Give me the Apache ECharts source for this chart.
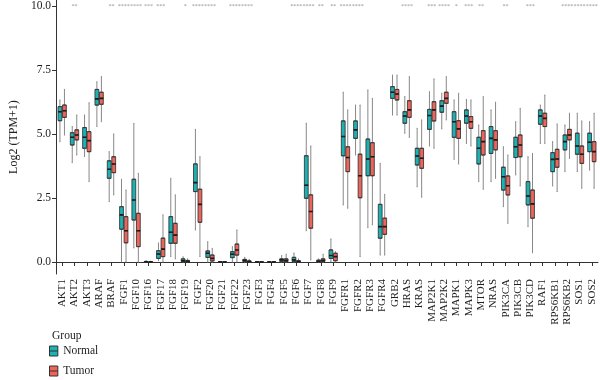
<!DOCTYPE html>
<html><head><meta charset="utf-8">
<script src="https://cdn.jsdelivr.net/npm/echarts@6/dist/echarts.min.js"></script>
<style>html,body{margin:0;padding:0;background:#fff}#c{width:600px;height:380px}</style>
</head><body><div id="c"></div>
<script>
var categories = ['AKT1','AKT2','AKT3','ARAF','BRAF','FGF1','FGF10','FGF16','FGF17','FGF18','FGF19','FGF2','FGF20','FGF21','FGF22','FGF23','FGF3','FGF4','FGF5','FGF6','FGF7','FGF8','FGF9','FGFR1','FGFR2','FGFR3','FGFR4','GRB2','HRAS','KRAS','MAP2K1','MAP2K2','MAPK1','MAPK3','MTOR','NRAS','PIK3CA','PIK3CB','PIK3CD','RAF1','RPS6KB1','RPS6KB2','SOS1','SOS2'];
// [lower whisker, Q1, median, Q3, upper whisker]
var normal = [
[4.70,5.52,5.87,6.07,6.33],[3.88,4.57,4.87,5.05,5.29],[4.12,4.44,4.87,5.25,5.74],[5.29,6.13,6.37,6.74,7.04],[2.36,3.27,3.62,3.95,4.31],
[0.01,1.28,1.84,2.16,3.23],[0.55,1.64,2.42,3.23,5.41],[0,0,0.01,0.02,0.05],[0.05,0.14,0.31,0.44,0.74],[0.21,0.73,1.16,1.77,3.27],
[0,0.02,0.05,0.12,0.2],[1.25,2.75,3.1,3.83,5.18],[0,0.18,0.34,0.43,0.79],[0,0,0,0,0.01],[0,0.17,0.3,0.4,0.6],
[0,0.02,0.06,0.1,0.18],[0,0,0,0,0.01],[0,0,0,0,0.01],[0,0.02,0.08,0.12,0.25],[0,0.02,0.08,0.18,0.35],
[1.22,2.49,3.0,4.15,5.42],[0,0.01,0.03,0.07,0.12],[0,0.14,0.25,0.47,0.9],[2.23,4.15,4.9,5.51,6.63],[4.18,4.83,5.16,5.51,6.13],
[1.34,3.37,4.02,4.8,6.72],[0.27,0.93,1.38,2.25,3.85],[5.74,6.39,6.63,6.85,7.3],[5.03,5.42,5.7,5.87,6.46],[2.94,3.79,4.14,4.44,5.22],
[4.53,5.18,5.72,5.96,6.65],[5.2,5.85,6.09,6.3,6.59],[4.01,4.87,5.48,5.87,6.33],[4.63,5.42,5.7,5.94,6.35],[3.14,3.83,4.44,4.87,5.35],
[3.14,4.24,4.83,5.29,5.94],[2.16,2.81,3.33,3.7,4.5],[3.4,4.08,4.5,4.87,5.48],[1.38,2.23,2.58,3.14,4.11],[4.63,5.38,5.7,5.94,6.13],
[2.97,3.53,4.01,4.27,4.7],[3.53,4.38,4.7,4.96,5.35],[3.53,4.21,4.53,5.03,5.81],[3.59,4.31,4.68,5.03,5.48]
];
var tumor = [
[4.96,5.65,5.91,6.13,6.74],[4.18,4.77,4.96,5.16,5.74],[3.14,4.31,4.74,5.09,6.22],[5.48,6.16,6.39,6.63,7.24],[2.62,3.49,3.83,4.11,5.0],
[0,0.75,1.22,1.77,2.81],[0,0.6,1.22,1.9,3.46],[0,0,0,0.01,0.03],[0,0.21,0.5,0.93,1.84],[0.12,0.73,1.05,1.51,2.62],
[0,0,0.02,0.06,0.12],[0.21,1.55,2.25,2.84,4.11],[0,0.04,0.14,0.27,0.53],[0,0,0,0,0.01],[0,0.27,0.47,0.7,1.25],
[0,0,0.02,0.04,0.1],[0,0,0,0,0.01],[0,0,0,0,0.01],[0,0.02,0.06,0.12,0.3],[0,0,0.02,0.05,0.12],
[0.08,1.32,1.97,2.62,4.53],[0,0.02,0.06,0.12,0.3],[0,0.05,0.21,0.34,0.4],[2.1,3.53,4.08,4.5,5.94],[0.21,2.51,3.37,4.21,6.13],
[1.45,3.37,4.11,4.66,6.39],[0.27,1.08,1.38,1.71,2.64],[5.74,6.33,6.56,6.74,7.3],[4.87,5.65,5.94,6.3,7.24],[2.53,3.66,4.05,4.44,5.55],
[4.44,5.51,5.94,6.26,7.15],[5.55,6.2,6.39,6.63,7.24],[3.83,4.83,5.2,5.52,6.59],[4.53,5.22,5.48,5.68,6.33],[2.84,4.18,4.7,5.13,6.46],
[3.27,4.38,4.77,5.13,6.24],[1.51,2.62,2.98,3.36,4.18],[2.97,4.11,4.57,4.96,6.0],[0.36,1.71,2.27,2.81,4.24],[4.63,5.29,5.61,5.81,6.52],
[2.75,3.7,4.02,4.4,5.39],[4.05,4.77,4.96,5.18,5.81],[2.88,3.85,4.21,4.53,5.51],[2.88,3.92,4.31,4.7,5.81]
];
var stars = ['','**','','','**','****','****','***','***','','*','****','****','','****','****','','','','****','****','**','**','****','****','','','','****','','***','****','*','***','**','','**','','***','','','****','****','****'];
var yTicks = [0, 2.5, 5, 7.5, 10];
var starLevel = 10;

var FONT = 'Liberation Serif';
var C_N = '#1BB2B4', C_T = '#EE645A';

function boxOnly(a){ return a.map(function(d){ return [d[1],d[1],d[2],d[3],d[3]]; }); }
function medOnly(a){ return a.map(function(d){ return [d[2],d[2],d[2],d[2],d[2]]; }); }

function xa(show){
  return {type:'category', data:categories, gridIndex:0, show:show,
    axisLine:{show:show, lineStyle:{color:'#333', width:1}},
    axisTick:{show:show, alignWithLabel:true, length:4, lineStyle:{color:'#333'}},
    axisLabel:{show:show, rotate:90, interval:0, margin:5, fontFamily:FONT, fontSize:11, color:'#222'},
    splitLine:{show:false}};
}

var chart = echarts.init(document.getElementById('c'), null, {renderer:'canvas'});
var boxW = 3.8;
var series = [
  {name:'Normal', type:'boxplot', xAxisIndex:0, data:normal, boxWidth:[1,1], z:2, silent:true,
   itemStyle:{color:'#888', borderColor:'#888', borderWidth:1}},
  {name:'Tumor', type:'boxplot', xAxisIndex:0, data:tumor, boxWidth:[1,1], z:2, silent:true,
   itemStyle:{color:'#888', borderColor:'#888', borderWidth:1}},
  {name:'Normal', type:'boxplot', xAxisIndex:1, data:boxOnly(normal), boxWidth:[boxW,boxW], z:3, silent:true,
   itemStyle:{color:C_N, borderColor:'#3a3a3a', borderWidth:0.9}},
  {name:'Tumor', type:'boxplot', xAxisIndex:1, data:boxOnly(tumor), boxWidth:[boxW,boxW], z:3, silent:true,
   itemStyle:{color:C_T, borderColor:'#3a3a3a', borderWidth:0.9}},
  {name:'Normal', type:'boxplot', xAxisIndex:2, data:medOnly(normal), boxWidth:[boxW,boxW], z:4, silent:true,
   itemStyle:{color:'#1a1a1a', borderColor:'#1a1a1a', borderWidth:1.6}},
  {name:'Tumor', type:'boxplot', xAxisIndex:2, data:medOnly(tumor), boxWidth:[boxW,boxW], z:4, silent:true,
   itemStyle:{color:'#1a1a1a', borderColor:'#1a1a1a', borderWidth:1.6}},
  {name:'sig', type:'scatter', xAxisIndex:0, z:5, silent:true, symbolSize:1,
   itemStyle:{color:'rgba(0,0,0,0)'},
   data:categories.map(function(c,i){ return {value:[c, starLevel], s:stars[i]}; }),
   label:{show:true, position:'inside', fontFamily:FONT, fontSize:6, color:'#777',
     formatter:function(p){ return p.data.s; }}}
];

chart.setOption({
  animation:false,
  backgroundColor:'#fff',
  title:{text:'Group', left:47, top:325, textStyle:{fontFamily:FONT, fontSize:11.5, fontWeight:'normal', color:'#222'}},
  legend:{orient:'vertical', left:49, top:345, padding:0, itemWidth:9, itemHeight:10, itemGap:8,
    height:40,
    textStyle:{fontFamily:FONT, fontSize:11.5, color:'#222'},
    data:[
      {name:'Normal', icon:'path://M0,0L10,0L10,12L0,12Z M0,6L10,6', itemStyle:{color:C_N, borderColor:'#333', borderWidth:1}},
      {name:'Tumor', icon:'path://M0,0L10,0L10,12L0,12Z M0,6L10,6', itemStyle:{color:C_T, borderColor:'#333', borderWidth:1}}
    ], selectedMode:false},
  grid:{left:50, top:0, width:548, height:274, containLabel:false},
  xAxis:[xa(true), xa(false), xa(false)],
  yAxis:{type:'value', min:-0.47, max:10.23,
    name:'Log2 (TPM+1)', nameLocation:'middle', nameGap:31, nameRotate:90,
    nameTextStyle:{fontFamily:FONT, fontSize:12, color:'#222'},
    axisLine:{show:true, lineStyle:{color:'#333', width:1}},
    axisTick:{show:true, length:4, customValues:yTicks, lineStyle:{color:'#333'}},
    axisLabel:{customValues:yTicks, margin:5, fontFamily:FONT, fontSize:11.5, color:'#222',
      formatter:function(v){ return v.toFixed(1); }},
    splitLine:{show:false}},
  series:series
});
</script></body></html>
